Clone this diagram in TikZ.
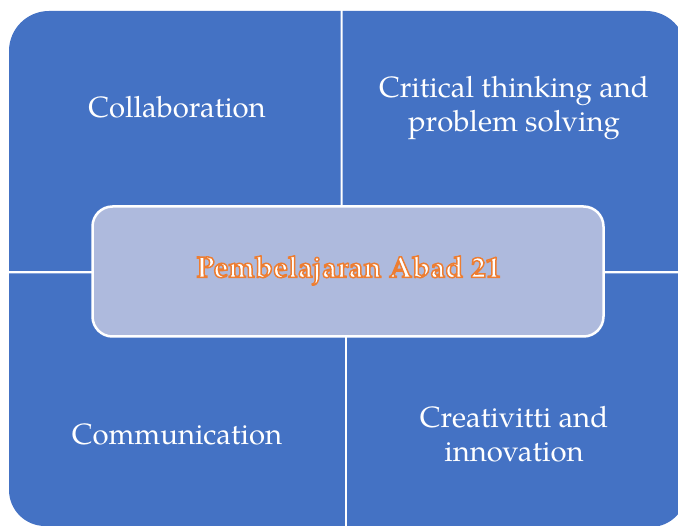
\documentclass[tikz,border=0pt]{standalone}
\usepackage{fontspec}
\setmainfont{TeX Gyre Pagella}
\font\hubf="TeX Gyre Pagella/B:embolden=5" at 29.8pt
\newcommand\outlinedtext[1]{\special{pdf:bcolor [1 1 1] [0.929 0.490 0.192]}#1\special{pdf:ecolor}}
\definecolor{quadblue}{HTML}{4472C4}
\definecolor{centerfill}{HTML}{AEBADD}
\definecolor{accentorange}{HTML}{ED7D31}
\begin{document}
\begin{tikzpicture}[x=1pt,y=-1pt,
  quad/.style={fill=quadblue,draw=none},
  lbl/.style={text=white,font=\fontsize{29.3}{34}\selectfont,align=center,inner sep=0pt},
  hub/.style={draw=white,line width=2.5pt,fill=centerfill,rounded corners=20pt,minimum width=511pt,minimum height=130pt,inner sep=0pt},
  hubtext/.style={font=\hubf,inner sep=0pt}]
\useasboundingbox (0,0) rectangle (678,526);
\begin{scope}
\clip (0,0) rectangle (678,526);
% top-left
\path[quad] (340.5,271) -- (9,271) [rounded corners=40pt] -- (9,11) [sharp corners] -- (340.5,11) -- cycle;
% top-right
\path[quad] (342.5,271) -- (342.5,11) [rounded corners=40pt] -- (686,11) [sharp corners] -- (686,271) -- cycle;
% bottom-left
\path[quad] (344.8,273.5) -- (9,273.5) [rounded corners=36pt] -- (9,526) [sharp corners] -- (344.8,526) -- cycle;
% bottom-right
\path[quad] (347,273.5) -- (347,527) [rounded corners=36pt] -- (686.5,527) [sharp corners] -- (686.5,273.5) -- cycle;
\end{scope}
\node[hub] (hub) at (348,271.5) {};
\node[hubtext] (hubtext) at (348.5,270.5) {\outlinedtext{Pembelajaran Abad 21}};
\node[lbl] (collab) at (177,107) {Collaboration};
\node[lbl] (critical) at (514,108) {Critical thinking and\\problem solving};
\node[lbl] (comm) at (177,434) {Communication};
\node[lbl] (creat) at (514,434) {Creativitti and\\innovation};
\end{tikzpicture}
\end{document}
